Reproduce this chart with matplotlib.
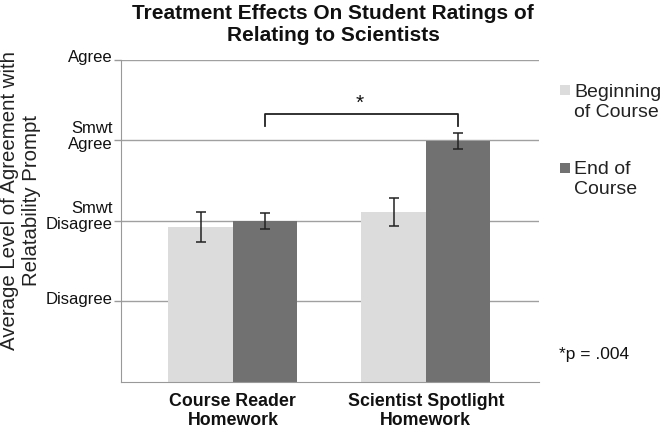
import matplotlib
matplotlib.use("Agg")
import matplotlib.pyplot as plt
from matplotlib.patches import Rectangle
from matplotlib.transforms import ScaledTranslation
import numpy as np

plt.rcParams['font.family'] = ['Liberation Sans', 'DejaVu Sans']

categories = ["Course Reader\nHomework", "Scientist Spotlight\nHomework"]
series_names = ["Beginning\nof Course", "End of\nCourse"]
beginning = [2.92, 3.11]
beginning_err = [0.19, 0.17]
end = [3.00, 3.99]
end_err = [0.10, 0.095]
ytick_vals = [2, 3, 4, 5]
ytick_labels = ["Disagree", "Smwt\nDisagree", "Smwt\nAgree", "Agree"]

W, H = 666, 428
fig = plt.figure(figsize=(6.66, 4.28), dpi=100)
ax = fig.add_axes([0.1817, 0.108, 0.627, 0.7525])

x = np.arange(len(categories))
w = 0.334
light = "#dcdcdc"
dark = "#717171"

ax.set_axisbelow(True)
for v in ytick_vals:
    ax.axhline(v, color="#a0a0a0", lw=1.0, zorder=0)

ax.bar(x - w/2, beginning, w, bottom=0, color=light, zorder=2)
ax.bar(x + w/2, end, w, bottom=0, color=dark, zorder=2)
ax.errorbar(x - w/2, beginning, yerr=beginning_err, fmt="none", ecolor="#222222",
            elinewidth=1.1, capsize=3.5, capthick=1.1, zorder=3)
ax.errorbar(x + w/2, end, yerr=end_err, fmt="none", ecolor="#222222",
            elinewidth=1.1, capsize=3.5, capthick=1.1, zorder=3)

ax.set_xlim(-0.58, 1.585)
ax.set_ylim(1, 5)
ax.set_yticks(ytick_vals)
ax.set_yticklabels(ytick_labels, fontsize=12, color="#111111", va="center",
                   linespacing=1.05)
ax.set_xticks(x)
ax.set_xticklabels(categories, fontsize=12.8, fontweight="bold", color="#111111",
                   linespacing=1.15)
ax.tick_params(axis="y", length=5, color="#999999", width=1, pad=1)
ax.tick_params(axis="x", length=0, pad=8)
for tick in ax.yaxis.get_major_ticks():
    lbl = tick.label1
    dy = 4 if "\n" in lbl.get_text() else 2
    lbl.set_transform(lbl.get_transform() + ScaledTranslation(0, dy / 100, fig.dpi_scale_trans))
for s in ["top", "right"]:
    ax.spines[s].set_visible(False)
ax.spines["left"].set_color("#999999")
ax.spines["bottom"].set_color("#999999")

fig.text(21 / W, 1 - 201 / H, "Average Level of Agreement with\nRelatability Prompt",
         rotation=90, ha="center", va="center", fontsize=14.7, color="#222222",
         linespacing=1.2)

# significance bracket
x1, x2 = x[0] + w/2, x[1] + w/2
y_top, y_bot = 4.32, 4.18
ax.plot([x1, x1, x2, x2], [y_bot, y_top, y_top, y_bot], color="#222222", lw=1.3,
        clip_on=False, zorder=4)
ax.text((x1 + x2) / 2 - 0.01, y_top + 0.02, "*", ha="center", va="bottom", fontsize=15,
        color="#111111")

fig.text(0.5, 0.99, "Treatment Effects On Student Ratings of\nRelating to Scientists",
         ha="center", va="top", fontsize=15, fontweight="bold", color="#111111",
         linespacing=1.15)

# legend (squares aligned with the first text line, as in the reference)
leg_colors = [light, dark]
sq_y = [90, 168]
txt_y = [93, 170]
for name, col, sy, ty in zip(series_names, leg_colors, sq_y, txt_y):
    fig.patches.append(Rectangle((560 / W, 1 - (sy + 5) / H), 10 / W, 10 / H,
                                 transform=fig.transFigure, facecolor=col,
                                 edgecolor="none"))
    fig.text(574 / W, 1 - (ty - 9) / H, name, ha="left", va="top", fontsize=14,
             color="#222222", linespacing=1.25)

fig.text(559 / W, 1 - 355 / H, "*p = .004", fontsize=12.5, color="#111111",
         ha="left", va="center")

fig.savefig("out.png", dpi=100)
